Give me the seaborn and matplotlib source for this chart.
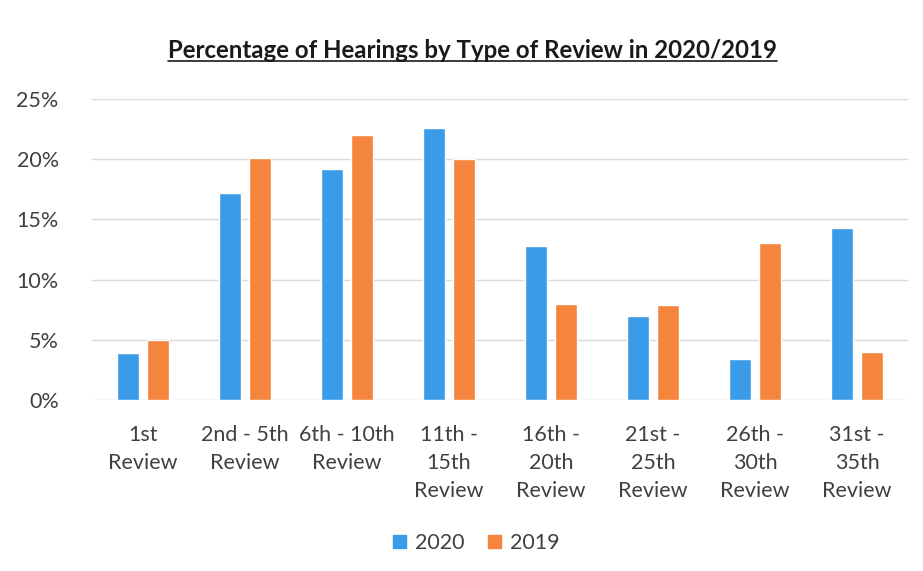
import pandas as pd
import numpy as np
import matplotlib
matplotlib.use("Agg")
import matplotlib.pyplot as plt
import seaborn as sns
from matplotlib.lines import Line2D

# ------------------------------
# Data
# ------------------------------
categories = ["1st\nReview", "2nd - 5th\nReview", "6th - 10th\nReview", "11th -\n15th\nReview",
              "16th -\n20th\nReview", "21st -\n25th\nReview", "26th -\n30th\nReview", "31st -\n35th\nReview"]
pct_2020 = [3.9, 17.2, 19.2, 22.6, 12.8, 7.0, 3.4, 14.3]
pct_2019 = [5.0, 20.1, 22.0, 20.0, 8.0, 7.9, 13.0, 4.0]
years = ["2020", "2019"]
colors = ["#3A9BE8", "#F5843C"]

df = pd.DataFrame({
    "Review": categories * 2,
    "Year": [years[0]] * len(categories) + [years[1]] * len(categories),
    "Percent": pct_2020 + pct_2019,
})

# ------------------------------
# Plot
# ------------------------------
sns.set_style("white")
plt.rcParams["font.family"] = ["Lato", "DejaVu Sans"]

fig = plt.figure(figsize=(9.23, 5.71), dpi=100)
ax = fig.add_axes([92 / 923, 171 / 571, 816 / 923, 301 / 571])

sns.barplot(data=df, x="Review", y="Percent", hue="Year", order=categories,
            hue_order=years, palette=colors, width=0.58, gap=0.25,
            saturation=1, ax=ax, legend=False, zorder=3)

ax.set_ylim(0, 25)
ax.set_yticks(np.arange(0, 26, 5))
ax.set_yticklabels([f"{v}%" for v in range(0, 26, 5)])
ax.set_xticks(range(len(categories)), categories, linespacing=1.5, va="top")
ax.yaxis.grid(True, color="#DADADA", linewidth=1)
ax.set_axisbelow(True)
for s in ax.spines.values():
    s.set_visible(False)
ax.set_xlabel("")
ax.set_ylabel("")
ax.tick_params(axis="y", length=0, pad=24, labelsize=15.5, labelcolor="#404040")
ax.tick_params(axis="x", length=0, pad=18, labelsize=15.5, labelcolor="#404040")

# legend
handles = [plt.Rectangle((0, 0), 1, 1, color=c) for c in colors]
fig.legend(handles, years, loc="center", bbox_to_anchor=(0.516, 0.049), ncol=2,
           frameon=False, fontsize=15.5, handlelength=0.6, handleheight=0.6,
           handletextpad=0.4, columnspacing=1.1, labelcolor="#404040")

# title with underline
title = fig.text(0.512, 0.912, "Percentage of Hearings by Type of Review in 2020/2019",
                 ha="center", va="center", fontsize=17.3, fontweight="bold", color="#1A1A1A")
fig.canvas.draw()
bb = title.get_window_extent().transformed(fig.transFigure.inverted())
fig.add_artist(Line2D([bb.x0, bb.x1], [bb.y0 + 0.002, bb.y0 + 0.002],
                      transform=fig.transFigure, color="#1A1A1A", linewidth=1.2))

fig.savefig("out.png", dpi=100, facecolor="white")
